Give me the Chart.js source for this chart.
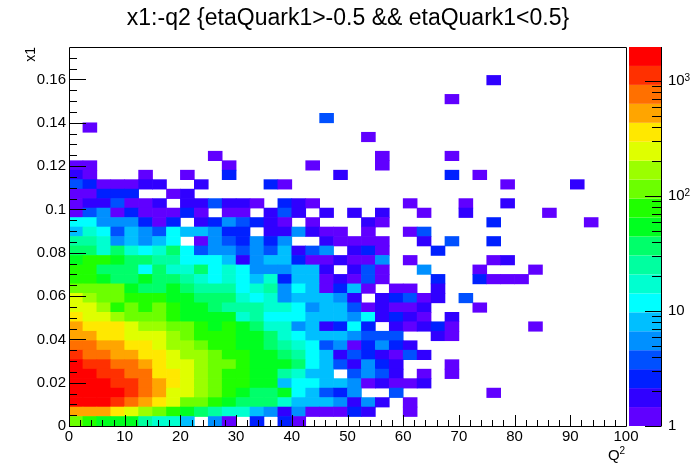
<!DOCTYPE html>
<html>
<head>
<meta charset="utf-8">
<style>
    html, body { margin: 0; padding: 0; background: #fff; }
    canvas { display: block; }
</style>
<script src="https://cdn.jsdelivr.net/npm/chart.js@4"></script>
</head>
<body>
<canvas id="chart" width="696" height="474"></canvas>
<script>
// counts per bin, one list per x1 row from the bottom, Q2 bins left to right
const row00 = [115,79,54,54,54,25,17,17,8,0,5,1,0,3,0,3,1];
const row01 = [523,523,523,358,245,168,115,79,54,37,25,17,17,8,5,2,5,1,1,1,3,2,0,0,1];
const row02 = [1630,1630,1630,1116,764,523,358,245,115,115,79,54,37,37,37,17,8,8,8,5,2,5,2,0,1];
const row03 = [1630,1630,1630,1630,1116,764,523,245,245,168,115,79,54,37,37,54,12,8,4,3,5,0,0,4,0,0,0,0,0,0,1];
const row04 = [1630,1630,1630,1116,1116,764,523,358,245,168,115,79,79,54,54,8,12,12,8,8,5,1,2,1,1,2];
const row05 = [1630,1630,1116,1116,764,764,358,358,245,168,115,79,79,54,54,25,17,8,8,0,4,5,4,2,0,1,0,1];
const row06 = [1630,1116,1116,764,764,523,358,245,245,168,115,115,79,54,54,54,37,12,8,4,2,5,3,2,0,0,0,1];
const row07 = [1116,764,764,523,523,358,358,245,168,168,115,79,79,54,54,37,25,12,8,2,4,3,2,1,4,2];
const row08 = [764,764,523,523,358,358,245,168,168,115,79,79,54,54,37,25,17,12,4,5,1,3,5,3,2];
const row09 = [523,523,358,358,245,245,245,168,115,79,79,79,54,54,37,17,12,8,8,8,5,4,4,4,0,0,2,1];
const row10 = [523,358,358,358,245,168,168,115,115,79,54,79,54,37,17,17,5,8,2,3,12,3,0,2,1,2,3,1,0,0,0,0,0,1];
const row11 = [358,245,245,168,115,115,115,79,54,54,54,54,17,25,12,12,12,8,8,8,5,12,2,3,2,1,0,2];
const row12 = [245,245,168,79,115,79,115,79,54,54,37,25,25,25,17,17,12,5,8,8,4,1,2,1,1,2,0,0,0,1];
const row13 = [245,168,115,115,79,79,79,54,54,37,37,37,17,12,17,5,8,8,8,5,2,0,2,3,4,1,2,0,4];
const row14 = [115,115,115,115,54,37,37,54,37,25,25,25,12,17,25,5,12,8,1,3,8,1,0,1,1,0,2];
const row15 = [79,79,54,37,37,54,37,37,25,17,12,17,12,8,17,3,8,8,1,2,1,4,1,0,0,0,3,0,0,3,1,1,1];
const row16 = [79,79,37,37,37,12,37,17,17,37,12,17,12,5,5,5,8,8,2,0,2,4,1,0,0,5,0,0,0,1,0,0,0,1];
const row17 = [54,79,79,54,37,37,25,25,12,12,12,8,2,5,8,8,3,1,1,2,1,1,5,0,1,0,0,0,0,0,1,2];
const row18 = [37,37,17,37,17,12,17,37,12,4,5,5,4,5,4,8,2,4,5,0,2,3,1,0,0,0,3];
const row19 = [25,25,17,5,8,5,8,12,0,1,5,4,3,5,3,5,0,0,2,1,1,1,1,0,0,2,0,4,0,0,3];
const row20 = [8,17,12,4,8,5,4,12,8,8,5,3,3,0,2,2,5,2,1,1,0,1,0,0,1,4];
const row21 = [12,12,5,5,5,3,1,3,0,2,3,5,4,3,2,1,0,1,0,0,0,2,1,0,0,0,0,0,0,0,3,0,0,0,0,0,0,1];
const row22 = [1,4,5,1,3,1,1,1,3,1,0,1,1,0,2,4,2,0,2,0,2,0,2,0,0,1,0,0,2,0,0,0,0,0,1];
const row23 = [1,2,2,4,1,1,2,0,2,2,4,2,2,1,0,3,2,1,0,0,0,0,0,0,1,0,0,0,1,0,0,2];
const row24 = [1,1,3,3,3,0,0,1,2];
const row25 = [4,3,1,1,1,2,2,0,0,2,0,0,0,0,3,1,0,0,0,0,0,0,0,0,0,0,0,0,0,0,0,1,0,0,0,0,2];
const row26 = [2,1,0,0,0,1,0,0,1,0,0,3,0,0,0,0,0,0,0,2,0,0,0,0,0,0,0,3,0,1];
const row27 = [1,1,0,0,0,0,0,0,0,0,0,1,0,0,0,0,0,1,0,0,0,0,1];
const row28 = [0,0,0,0,0,0,0,0,0,0,1,0,0,0,0,0,0,0,0,0,0,0,1,0,0,0,0,1];
const row29 = [];
const row30 = [0,0,0,0,0,0,0,0,0,0,0,0,0,0,0,0,0,0,0,0,0,1];
const row31 = [0,1];
const row32 = [0,0,0,0,0,0,0,0,0,0,0,0,0,0,0,0,0,0,4];
const row33 = [];
const row34 = [0,0,0,0,0,0,0,0,0,0,0,0,0,0,0,0,0,0,0,0,0,0,0,0,0,0,0,1];
const row35 = [];
const row36 = [0,0,0,0,0,0,0,0,0,0,0,0,0,0,0,0,0,0,0,0,0,0,0,0,0,0,0,0,0,0,2];

const rows = [row00,row01,row02,row03,row04,row05,row06,row07,row08,row09,
              row10,row11,row12,row13,row14,row15,row16,row17,row18,row19,
              row20,row21,row22,row23,row24,row25,row26,row27,row28,row29,
              row30,row31,row32,row33,row34,row35,row36];

const palette = ['#6000ff','#3000ff','#0020ff','#0050ff','#0090ff','#00bfff','#00ffff','#00ffd0',
                 '#00ffa0','#00ff6a','#00ff20','#20ff00','#6cff00','#9bff00','#dfff00','#ffe800',
                 '#ffa500','#ff7000','#ff3000','#ff0000'];

const xMax = 100, yMax = 0.175, zMax = 1976;
const xBin = xMax / 40, yBin = yMax / 40;
const yTickValues = [0, 0.02, 0.04, 0.06, 0.08, 0.1, 0.12, 0.14, 0.16];
const zTickValues = [1, 10, 100, 1000];
const zTickLabels = ['1', '10', '10', '10'];
const zExponents = [null, null, '2', '3'];
const zMinorValues = [2,3,4,5,6,7,8,9,20,30,40,50,60,70,80,90,200,300,400,500,600,700,800,900];

const box = { left: 69, top: 47, right: 626, bottom: 426 };
const font = { family: "'Liberation Sans', Arial, sans-serif", size: 15 };

function levelOf(v) {
    const i = Math.floor(Math.log10(v) / (Math.log10(zMax) / palette.length));
    return Math.min(i, palette.length - 1);
}

// tick labels may overflow the box, keep the plot area where it is
function noOverflow(s) {
    s.paddingTop = 0; s.paddingBottom = 0; s.paddingLeft = 0; s.paddingRight = 0;
}

// one floating-bar dataset per row, so every cell goes through the scales
const datasets = rows.map((row, r) => {
    const cells = [];
    row.forEach((v, c) => {
        if (v > 0) cells.push({ x: (c + 0.5) * xBin, y: [r * yBin, (r + 1) * yBin], v: v });
    });
    return {
        data: cells,
        backgroundColor: ctx => ctx.raw ? palette[levelOf(ctx.raw.v)] : 'transparent',
        borderWidth: 0,
        grouped: false,
        barPercentage: 1,
        categoryPercentage: 1
    };
});

// frame, inward tick marks, colour bar: ROOT draws these in a way the scales do not
const rootFrame = {
    id: 'rootFrame',
    afterDraw(chart) {
        const { ctx, scales } = chart;
        const area = chart.chartArea;
        ctx.save();
        ctx.strokeStyle = '#000';
        ctx.lineWidth = 1;
        ctx.beginPath();
        ctx.rect(area.left + 0.5, area.top + 0.5, area.right - area.left, area.bottom - area.top);

        for (let v = 0; v <= xMax; v += 2) {
            const x = Math.round(scales.x.getPixelForValue(v)) + 0.5;
            ctx.moveTo(x, area.bottom);
            ctx.lineTo(x, area.bottom - (v % 10 === 0 ? 11 : 6));
        }
        for (let i = 0; i * 0.005 <= yMax; i++) {
            const y = Math.round(scales.y.getPixelForValue(i * 0.005)) + 0.5;
            ctx.moveTo(area.left, y);
            ctx.lineTo(area.left + (i % 4 === 0 ? 17 : 8), y);
        }
        ctx.stroke();

        // colour bar
        const barLeft = 629, barRight = 661;
        palette.forEach((color, i) => {
            const lo = Math.pow(zMax, i / palette.length);
            const hi = Math.pow(zMax, (i + 1) / palette.length);
            const yTop = scales.z.getPixelForValue(hi);
            const yBottom = scales.z.getPixelForValue(lo);
            ctx.fillStyle = color;
            ctx.fillRect(barLeft, yTop, barRight - barLeft, yBottom - yTop);
        });
        ctx.beginPath();
        ctx.moveTo(barRight + 0.5, area.top);
        ctx.lineTo(barRight + 0.5, area.bottom + 0.5);
        zTickValues.forEach(v => {
            const y = Math.round(scales.z.getPixelForValue(v)) + 0.5;
            ctx.moveTo(barRight, y);
            ctx.lineTo(barRight - 16, y);
        });
        zMinorValues.forEach(v => {
            const y = Math.round(scales.z.getPixelForValue(v)) + 0.5;
            ctx.moveTo(barRight, y);
            ctx.lineTo(barRight - 9, y);
        });
        ctx.stroke();

        // superscripts, canvas text has no markup for these
        ctx.fillStyle = '#000';
        ctx.textAlign = 'left';
        ctx.textBaseline = 'alphabetic';
        ctx.font = '10px ' + font.family;
        zExponents.forEach((e, i) => {
            if (e) ctx.fillText(e, 684.5, scales.z.getPixelForValue(zTickValues[i]));
        });
        ctx.fillText('2', 619.5, 454);
        ctx.font = '15px ' + font.family;
        ctx.fillText('Q', 608, 460);
        ctx.restore();
    }
};

new Chart(document.getElementById('chart').getContext('2d'), {
    type: 'bar',
    data: { datasets },
    plugins: [rootFrame],
    options: {
        responsive: false,
        animation: false,
        devicePixelRatio: 1,
        layout: { padding: 0 },
        plugins: {
            legend: { display: false },
            tooltip: { enabled: false },
            title: {
                display: true,
                text: 'x1:-q2 {etaQuark1>-0.5 && etaQuark1<0.5}',
                color: '#000',
                font: { family: font.family, size: 23, weight: 'normal' },
                padding: { top: 5, bottom: 14.4 }
            }
        },
        scales: {
            x: {
                type: 'linear', min: 0, max: xMax, offset: false,
                afterFit: s => { s.height = 474 - box.bottom; noOverflow(s); },
                grid: { display: false, offset: false, drawTicks: false },
                border: { display: false },
                ticks: { stepSize: 10, color: '#000', font, padding: 2, maxRotation: 0, autoSkip: false }
            },
            y: {
                type: 'linear', min: 0, max: yMax,
                afterFit: s => { s.width = box.left; noOverflow(s); },
                afterBuildTicks: s => { s.ticks = yTickValues.map(value => ({ value })); },
                grid: { display: false, drawTicks: false },
                border: { display: false },
                ticks: { color: '#000', font, padding: 3, autoSkip: false, callback: v => String(v) },
                title: {
                    display: true, text: 'x1', align: 'end', color: '#000',
                    font: { family: font.family, size: 14 }, padding: { top: 23, bottom: 0 }
                }
            },
            z: {
                type: 'logarithmic', position: 'right', min: 1, max: zMax,
                afterFit: s => { s.width = 696 - box.right; noOverflow(s); },
                afterBuildTicks: s => { s.ticks = zTickValues.map(value => ({ value })); },
                grid: { display: false, drawOnChartArea: false, drawTicks: false },
                border: { display: false },
                ticks: {
                    color: '#000', font, padding: 42, autoSkip: false,
                    callback: v => zTickLabels[zTickValues.indexOf(v)]
                }
            }
        }
    }
});
</script>
</body>
</html>
